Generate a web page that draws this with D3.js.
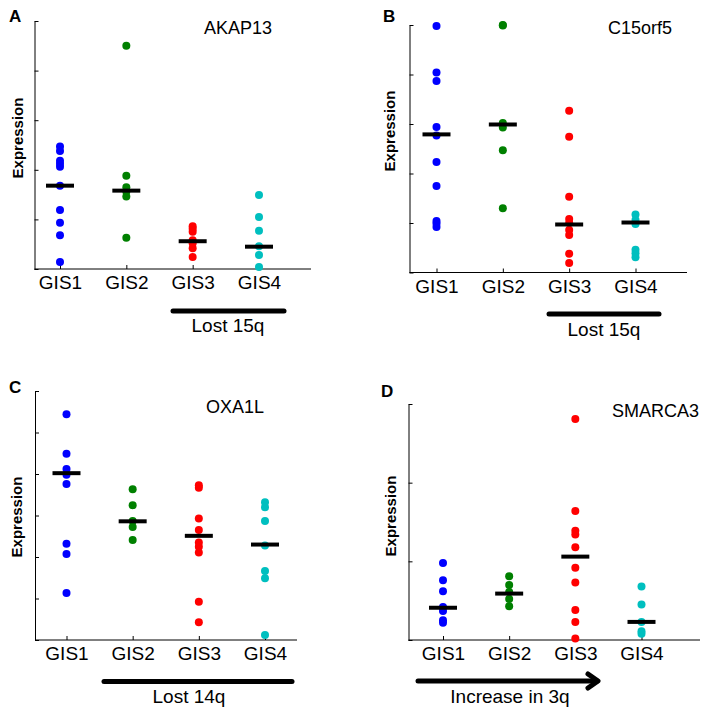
<!DOCTYPE html>
<html lang="en">
<head>
  <meta charset="UTF-8">
  <title>Expression by GIS group</title>
  <script src="https://cdn.jsdelivr.net/npm/d3@7.8.5/dist/d3.min.js"></script>
  <style>
    body { margin: 0; background: #fff; }
    svg { display: block; font-family: "Liberation Sans", Arial, sans-serif; }
  </style>
</head>
<body>
  <svg id="chart" width="717" height="717"></svg>
  <script>
    // groups shared by all four panels
    const groups = ["GIS1", "GIS2", "GIS3", "GIS4"];
    const groupColors = ["#0000ff", "#008000", "#ff0000", "#00bfbf"];

    // values (arbitrary expression units, no tick labels shown)
    const akap13 = [
      [2.47, 2.38, 2.18, 2.12, 2.06, 1.68, 1.19, 0.93, 0.68, 0.14],
      [4.50, 1.88, 1.65, 1.56, 1.46, 0.63],
      [0.86, 0.81, 0.75, 0.58, 0.52, 0.42, 0.24],
      [1.49, 1.05, 0.77, 0.46, 0.28, 0.04]
    ];
    const akap13Medians = [1.68, 1.58, 0.56, 0.45];

    const c15orf5 = [
      [4.98, 4.04, 3.87, 2.94, 2.77, 2.23, 1.75, 1.04, 0.99, 0.92],
      [5.0, 4.99, 3.02, 2.93, 2.47, 1.30],
      [3.27, 2.74, 1.53, 1.08, 1.0, 0.86, 0.76, 0.38, 0.19],
      [1.17, 1.06, 0.98, 0.46, 0.39, 0.31]
    ];
    const c15orf5Medians = [2.79, 2.99, 0.97, 1.01];

    const oxa1l = [
      [5.44, 4.49, 4.12, 3.98, 3.76, 2.32, 2.07, 1.13],
      [3.63, 3.25, 2.87, 2.72, 2.41],
      [3.73, 3.67, 2.93, 2.65, 2.35, 2.25, 2.11, 0.92, 0.43],
      [3.32, 3.20, 2.87, 2.28, 1.66, 1.49, 0.12]
    ];
    const oxa1lMedians = [4.02, 2.86, 2.51, 2.30];

    const smarca3 = [
      [0.98, 0.76, 0.62, 0.42, 0.37, 0.25, 0.22],
      [0.81, 0.70, 0.61, 0.52, 0.43],
      [2.81, 1.64, 1.39, 1.34, 1.18, 0.92, 0.73, 0.38, 0.23, 0.02],
      [0.68, 0.45, 0.23, 0.11, 0.08]
    ];
    const smarca3Medians = [0.41, 0.59, 1.06, 0.23];

    // panel layout (pixels)
    const panels = [
      { letter: "A", gene: "AKAP13", values: akap13, medians: akap13Medians, yMax: 5,
        left: 34.5, right: 311, top: 21, bottom: 269, g1: 60, g4: 259,
        letterX: 9, letterY: 22, titleX: 204, titleY: 34, ylabX: 23, ylabY: 138,
        note: { kind: "bar", x1: 173, x2: 284, y: 311, text: "Lost 15q", tx: 228, ty: 332 } },
      { letter: "B", gene: "C15orf5", values: c15orf5, medians: c15orf5Medians, yMax: 5,
        left: 409.5, right: 687, top: 25, bottom: 272.5, g1: 436.5, g4: 635.5,
        letterX: 383, letterY: 22, titleX: 608, titleY: 34, ylabX: 395, ylabY: 131,
        note: { kind: "bar", x1: 549, x2: 659, y: 314, text: "Lost 15q", tx: 604, ty: 336 } },
      { letter: "C", gene: "OXA1L", values: oxa1l, medians: oxa1lMedians, yMax: 6,
        left: 35, right: 297, top: 391, bottom: 640, g1: 66.5, g4: 265,
        letterX: 9, letterY: 393, titleX: 206, titleY: 413, ylabX: 22, ylabY: 517,
        note: { kind: "bar", x1: 104, x2: 292, y: 681.5, text: "Lost 14q", tx: 189, ty: 703 } },
      { letter: "D", gene: "SMARCA3", values: smarca3, medians: smarca3Medians, yMax: 3,
        left: 408.5, right: 700, top: 404, bottom: 640, g1: 443, g4: 641.5,
        letterX: 381, letterY: 397, titleX: 612, titleY: 417, ylabX: 396, ylabY: 516,
        note: { kind: "arrow", x1: 418, x2: 597, y: 681, text: "Increase in 3q", tx: 510, ty: 703 } }
    ];

    const svg = d3.select("#chart");

    panels.forEach(p => {
      const g = svg.append("g");
      const x = d3.scaleLinear().domain([1, 4]).range([p.g1, p.g4]);
      const y = d3.scaleLinear().domain([0, p.yMax]).range([p.bottom, p.top]);

      // y axis: ticks point inward, no labels
      g.append("g")
        .attr("transform", `translate(${p.left},0)`)
        .call(d3.axisRight(y).ticks(p.yMax).tickSize(4).tickSizeOuter(0).tickFormat(""))
        .call(a => a.selectAll("line,path").attr("stroke", "#000"));

      // x axis line spans the whole box
      g.append("line")
        .attr("x1", p.left).attr("x2", p.right)
        .attr("y1", p.bottom).attr("y2", p.bottom)
        .attr("stroke", "#000");

      g.append("g")
        .attr("transform", `translate(0,${p.bottom})`)
        .call(d3.axisBottom(x).tickValues([1, 2, 3, 4]).tickSize(-4).tickPadding(7)
          .tickFormat(d => groups[d - 1]))
        .call(a => a.select(".domain").remove())
        .call(a => a.selectAll("line").attr("stroke", "#000"))
        .call(a => a.selectAll("text").attr("font-size", 19).attr("fill", "#000")
          .attr("font-family", "'Liberation Sans', Arial, sans-serif"));

      // points
      p.values.forEach((vals, i) => {
        g.append("g").selectAll("circle")
          .data(vals)
          .enter()
          .append("circle")
          .attr("cx", x(i + 1))
          .attr("cy", d => y(d))
          .attr("r", 4)
          .attr("fill", groupColors[i]);
      });

      // median bars
      g.append("g").selectAll("line")
        .data(p.medians)
        .enter()
        .append("line")
        .attr("x1", (d, i) => x(i + 1) - 14)
        .attr("x2", (d, i) => x(i + 1) + 14)
        .attr("y1", d => y(d))
        .attr("y2", d => y(d))
        .attr("stroke", "#000")
        .attr("stroke-width", 4);

      // labels
      g.append("text")
        .attr("x", p.letterX).attr("y", p.letterY)
        .attr("font-size", 17).attr("font-weight", "bold")
        .text(p.letter);
      g.append("text")
        .attr("x", p.titleX).attr("y", p.titleY)
        .attr("font-size", 18)
        .text(p.gene);
      g.append("text")
        .attr("transform", `translate(${p.ylabX},${p.ylabY}) rotate(-90)`)
        .attr("text-anchor", "middle")
        .attr("font-size", 15).attr("font-weight", "bold")
        .text("Expression");

      // bracket / arrow annotation
      const n = p.note;
      g.append("line")
        .attr("x1", n.x1).attr("x2", n.x2)
        .attr("y1", n.y).attr("y2", n.y)
        .attr("stroke", "#000").attr("stroke-width", 5)
        .attr("stroke-linecap", "round");
      if (n.kind === "arrow") {
        g.append("path")
          .attr("d", `M${n.x2 - 9},${n.y - 7} L${n.x2 + 1},${n.y} L${n.x2 - 9},${n.y + 7}`)
          .attr("fill", "none").attr("stroke", "#000").attr("stroke-width", 5)
          .attr("stroke-linejoin", "round").attr("stroke-linecap", "round");
      }
      g.append("text")
        .attr("x", n.tx).attr("y", n.ty)
        .attr("text-anchor", "middle")
        .attr("font-size", 19)
        .text(n.text);
    });
  </script>
</body>
</html>
